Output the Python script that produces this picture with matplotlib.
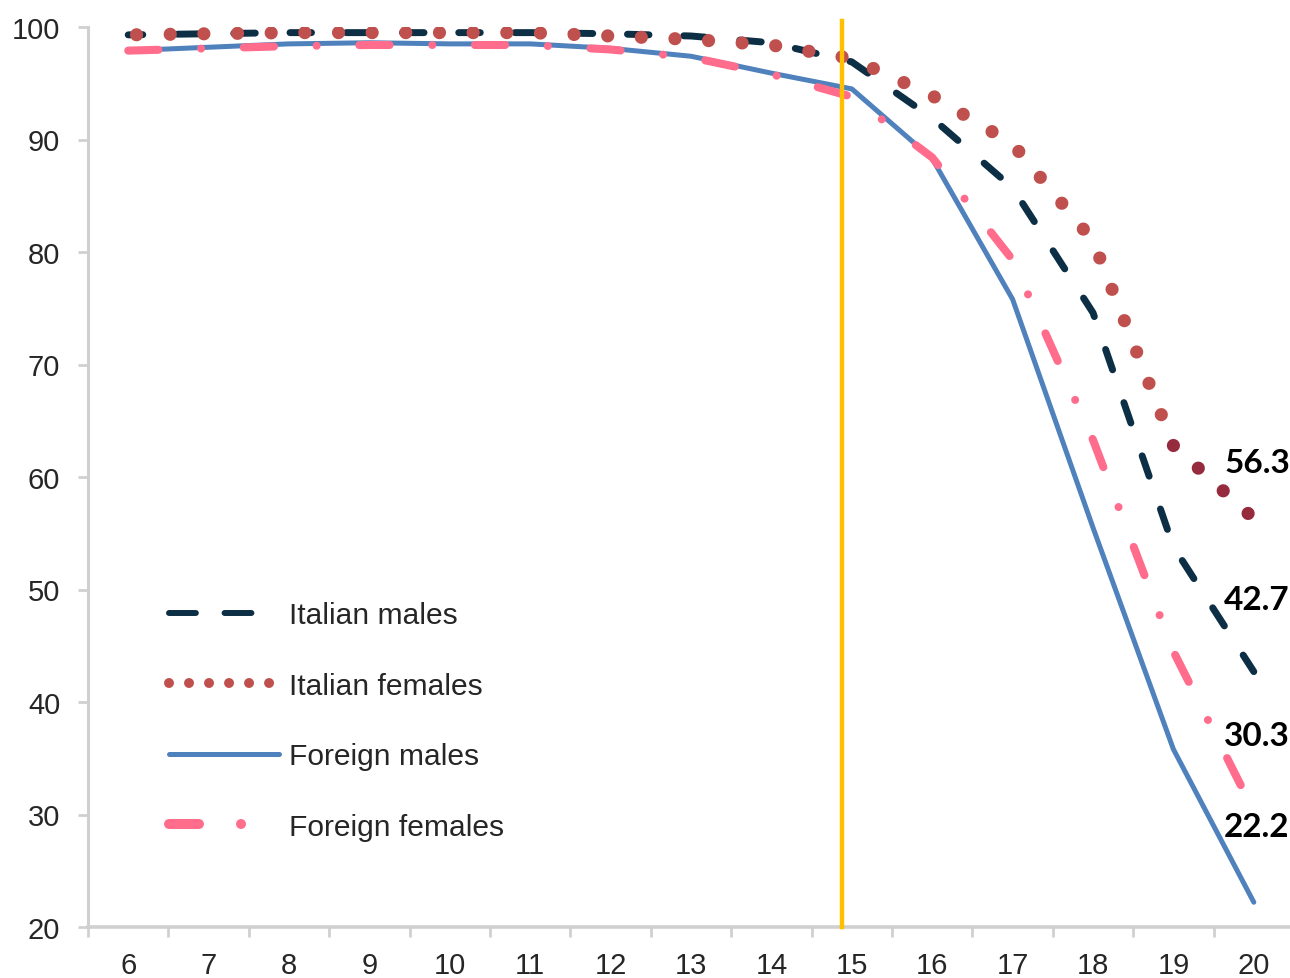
import matplotlib
matplotlib.use("Agg")
import numpy as np
import matplotlib.pyplot as plt
from matplotlib.lines import Line2D
from matplotlib.ticker import FixedLocator, NullFormatter, FixedFormatter

# Share of young people still in education, by age
ages = [6, 7, 8, 9, 10, 11, 12, 13, 14, 15, 16, 17, 18, 19, 20]
italian_males = [99.3, 99.4, 99.5, 99.5, 99.5, 99.5, 99.4, 99.2, 98.6, 96.9, 91.9, 85.7, 74.6, 53.8, 42.7]
italian_females = [99.3, 99.4, 99.5, 99.5, 99.5, 99.5, 99.2, 98.9, 98.4, 97.2, 93.9, 89.6, 81.0, 62.8, 56.3]
foreign_males = [97.9, 98.2, 98.5, 98.6, 98.5, 98.5, 98.1, 97.4, 95.9, 94.5, 88.3, 75.8, 55.5, 35.8, 22.2]
foreign_females = [97.9, 98.1, 98.3, 98.4, 98.4, 98.4, 98.0, 97.3, 95.8, 93.8, 88.4, 79.3, 63.3, 44.5, 30.3]
series_names = ["Italian males", "Italian females", "Foreign males", "Foreign females"]
compulsory_age = 14.88

plt.rcParams["font.family"] = ["Liberation Sans", "DejaVu Sans"]

NAVY = "#0C2F45"
RED = "#C0504D"
DARK_RED = "#952B3C"
BLUE = "#4F81BD"
PINK = "#FF6C8C"
GOLD = "#FFC000"
AXIS_GREY = "#D0D0D0"
TEXT = "#262626"

W, H = 1290, 979
fig = plt.figure(figsize=(W / 100, H / 100), dpi=100)
ax = fig.add_axes([88 / W, 51 / H, 1206 / W, 900 / H])
ax.set_xlim(5.5, 20.5)
ax.set_ylim(20, 100)


def path_length_pt(xs, ys):
    """Length of a polyline in points, measured in display space."""
    pts = ax.transData.transform(np.column_stack([xs, ys]))
    return np.hypot(*np.diff(pts, axis=0).T).sum() * 72 / fig.dpi


# Foreign males: solid
ax.plot(ages, foreign_males, color=BLUE, lw=3.6, solid_capstyle="round",
        solid_joinstyle="round", zorder=2)
# Foreign females: long dash / dot
ax.plot(ages, foreign_females, color=PINK, lw=5.8, dash_capstyle="round",
        linestyle=(0, (3.75, 5.3, 0.001, 5.3)), zorder=3)
# Italian males: dashes
ax.plot(ages, italian_males, color=NAVY, lw=5.0, dash_capstyle="round",
        linestyle=(1.0, (3.1, 5.0)), zorder=4)

# Italian females: round dots, last segment highlighted.
# The dot phase is chosen so the main run ends exactly on a dot, which the
# highlighted segment then covers.
dot_lw, dot_gap = 9.5, 2.55
main_len = path_length_pt(ages[:-1], italian_females[:-1])
period = dot_lw * dot_gap
phase = ((-main_len) % period) / dot_lw
ax.plot(ages[:-1], italian_females[:-1], color=RED, lw=dot_lw, dash_capstyle="round",
        linestyle=(phase, (0.001, dot_gap)), zorder=5)
ax.plot(ages[-2:], italian_females[-2:], color=DARK_RED, lw=dot_lw, dash_capstyle="round",
        linestyle=(0, (0.001, dot_gap)), zorder=5)

# Compulsory schooling threshold
ax.axvline(compulsory_age, ymin=0, ymax=1.007, color=GOLD, lw=3.2,
           clip_on=False, zorder=6)

# End-of-series value labels
label_offsets = [6.4, 5.0, 6.7, 6.7]
for vals, off in zip([italian_males, italian_females, foreign_males, foreign_females],
                     label_offsets):
    ax.text(ages[-1] - 0.37, vals[-1] + off, f"{vals[-1]:.1f}",
            fontsize=24, fontweight="bold", family=["Lato", "DejaVu Sans"],
            color="black", ha="left", va="center", zorder=7)

# Axes styling
for side in ("top", "right"):
    ax.spines[side].set_visible(False)
ax.spines["left"].set_color(AXIS_GREY)
ax.spines["left"].set_linewidth(2.2)
ax.spines["bottom"].set_color(AXIS_GREY)
ax.spines["bottom"].set_linewidth(2.6)

ax.set_yticks(range(20, 101, 10))
ax.tick_params(axis="y", length=7, width=2, color=AXIS_GREY, pad=13,
               labelsize=21, labelcolor=TEXT)

# Category axis: tick marks between categories, labels at centres
ax.xaxis.set_major_locator(FixedLocator([a - 0.5 for a in ages] + [ages[-1] + 0.5]))
ax.xaxis.set_major_formatter(NullFormatter())
ax.xaxis.set_minor_locator(FixedLocator(ages))
ax.xaxis.set_minor_formatter(FixedFormatter([str(a) for a in ages]))
ax.tick_params(axis="x", which="major", length=7, width=2, color=AXIS_GREY)
ax.tick_params(axis="x", which="minor", length=0, pad=17, labelsize=21,
               labelcolor=TEXT)

# Legend
handles = [
    Line2D([], [], color=NAVY, lw=4.3, dash_capstyle="round", linestyle=(0, (4.5, 4.8))),
    Line2D([], [], color=RED, lw=7.2, dash_capstyle="round", linestyle=(0, (0.001, 2.0))),
    Line2D([], [], color=BLUE, lw=3.6, solid_capstyle="round"),
    Line2D([], [], color=PINK, lw=7.2, dash_capstyle="round",
           linestyle=(0, (3.0, 4.2, 0.001, 4.2))),
]
fig.legend(handles, series_names, loc="upper left",
           bbox_to_anchor=(169 / W, 1 - 602 / H), frameon=False, fontsize=21.6,
           handlelength=3.65, handletextpad=0.35, labelspacing=1.42,
           borderpad=0, borderaxespad=0, labelcolor=TEXT)

fig.savefig("out.png", dpi=100)
